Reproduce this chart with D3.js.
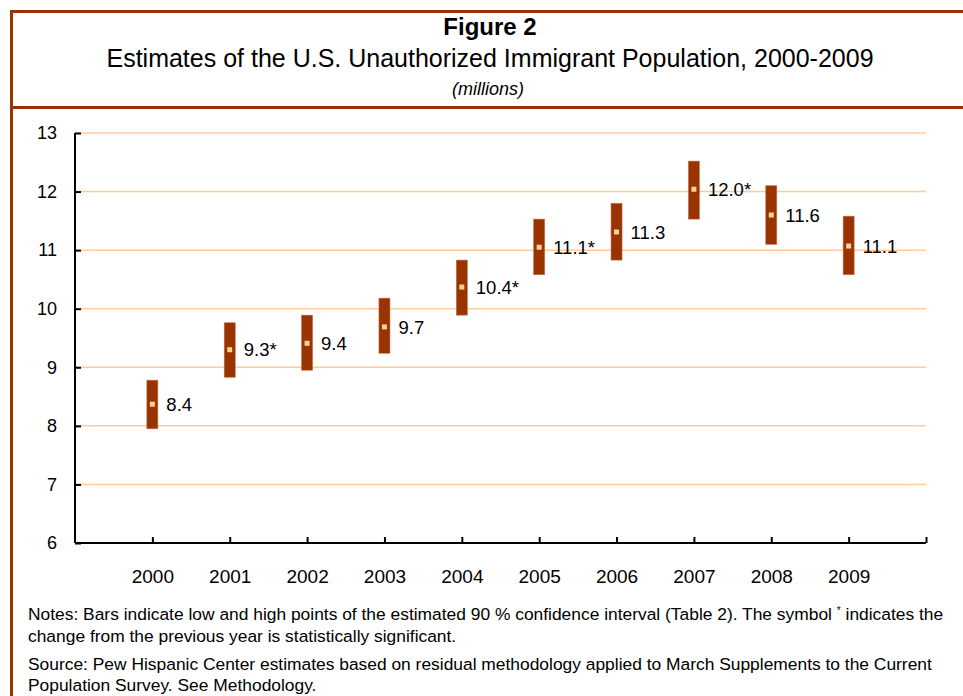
<!DOCTYPE html>
<html>
<head>
<meta charset="utf-8">
<script src="https://d3js.org/d3.v7.min.js"></script>
<style>
  body { margin: 0; background: #fff; }
  text { font-family: "Liberation Sans", Arial, sans-serif; }
</style>
</head>
<body>
<div id="chart"></div>
<script>
// years, estimates (millions) and 90% confidence interval ends
const years  = [2000, 2001, 2002, 2003, 2004, 2005, 2006, 2007, 2008, 2009];
const values = [8.37, 9.30, 9.41, 9.69, 10.37, 11.05, 11.31, 12.04, 11.60, 11.07];
const lows   = [7.95, 8.83, 8.95, 9.24, 9.89, 10.58, 10.83, 11.53, 11.10, 10.58];
const highs  = [8.78, 9.76, 9.89, 10.18, 10.83, 11.53, 11.80, 12.52, 12.10, 11.58];
const labels = ["8.4", "9.3*", "9.4", "9.7", "10.4*", "11.1*", "11.3", "12.0*", "11.6", "11.1"];
const yTicks = [6, 7, 8, 9, 10, 11, 12, 13];

const width = 963, height = 696;
const brown = "#993300", peach = "#FFCC99";

const svg = d3.select("#chart").append("svg")
    .attr("width", width)
    .attr("height", height);

// frame lines
svg.append("rect").attr("x", 10).attr("y", 10).attr("width", width).attr("height", 3).attr("fill", brown);
svg.append("rect").attr("x", 10).attr("y", 106).attr("width", width).attr("height", 3).attr("fill", brown);
svg.append("rect").attr("x", 10).attr("y", 10).attr("width", 3).attr("height", height).attr("fill", brown);

// titles
svg.append("text").attr("x", 490).attr("y", 35).attr("text-anchor", "middle")
    .style("font-size", "24px").style("font-weight", "bold").text("Figure 2");
svg.append("text").attr("x", 490).attr("y", 67).attr("text-anchor", "middle")
    .style("font-size", "25px")
    .text("Estimates of the U.S. Unauthorized Immigrant Population, 2000-2009");
svg.append("text").attr("x", 488).attr("y", 95).attr("text-anchor", "middle")
    .style("font-size", "18px").style("font-style", "italic").text("(millions)");

// scales
const x = d3.scaleLinear().domain([1999, 2010]).range([75, 926]);
const y = d3.scaleLinear().domain([6, 13]).range([543, 133]);

// gridlines
svg.append("g").selectAll("line")
    .data(yTicks.filter(d => d > 6))
    .join("line")
    .attr("x1", x(1999)).attr("x2", x(2010))
    .attr("y1", d => y(d)).attr("y2", d => y(d))
    .attr("stroke", peach).attr("stroke-width", 1.5);

// y axis
const yAxis = svg.append("g")
    .attr("transform", `translate(${x(1999)},0)`)
    .call(d3.axisLeft(y).tickValues(yTicks).tickSize(-6).tickPadding(18).tickFormat(d3.format("d")));
yAxis.select(".domain").attr("stroke", "#000").attr("stroke-width", 2)
    .attr("d", `M0,${y(13)}V${y(6)}`);
yAxis.selectAll(".tick line").attr("stroke", "#000").attr("stroke-width", 2);
yAxis.selectAll(".tick text").style("font-size", "18px").attr("fill", "#000")
    .attr("font-family", null);

// x axis
const xAxis = svg.append("g")
    .attr("transform", `translate(0,${y(6)})`)
    .call(d3.axisBottom(x).tickValues(years.concat([2010])).tickSize(-6).tickPadding(27)
        .tickFormat(d => d === 2010 ? "" : d));
xAxis.select(".domain").attr("stroke", "#000").attr("stroke-width", 2)
    .attr("d", `M${x(1999)},0H${x(2010)}`);
xAxis.selectAll(".tick line").attr("stroke", "#000").attr("stroke-width", 2);
xAxis.selectAll(".tick text").style("font-size", "19px").attr("fill", "#000")
    .attr("font-family", null);

// interval bars
const rows = years.map((yr, i) => ({ yr, v: values[i], lo: lows[i], hi: highs[i], lab: labels[i] }));

svg.append("g").selectAll("rect")
    .data(rows)
    .join("rect")
    .attr("x", d => x(d.yr) - 5.5)
    .attr("width", 11)
    .attr("y", d => y(d.hi))
    .attr("height", d => y(d.lo) - y(d.hi))
    .attr("fill", brown)
    .attr("stroke", "#C4704A").attr("stroke-width", 0.6);

// estimate markers
svg.append("g").selectAll("rect")
    .data(rows)
    .join("rect")
    .attr("x", d => x(d.yr) - 2.5)
    .attr("y", d => y(d.v) - 2.5)
    .attr("width", 5).attr("height", 5)
    .attr("fill", "#FFD0A0");

// value labels
svg.append("g").selectAll("text")
    .data(rows)
    .join("text")
    .attr("x", d => x(d.yr) + 14)
    .attr("y", d => y(d.v))
    .attr("dy", "0.36em")
    .style("font-size", "18.5px")
    .text(d => d.lab);

// notes
const notes = svg.append("g").style("font-size", "17.4px");
const n1 = notes.append("text").attr("x", 28).attr("y", 620);
n1.append("tspan").text("Notes: Bars indicate low and high points of the estimated 90 % confidence interval (Table 2). The symbol ");
n1.append("tspan").attr("dy", -6).style("font-size", "10px").text("*");
n1.append("tspan").attr("dy", 6).text(" indicates the");
notes.append("text").attr("x", 28).attr("y", 642)
    .text("change from the previous year is statistically significant.");
notes.append("text").attr("x", 28).attr("y", 670)
    .text("Source: Pew Hispanic Center estimates based on residual methodology applied to March Supplements to the Current");
notes.append("text").attr("x", 28).attr("y", 691)
    .text("Population Survey. See Methodology.");
</script>
</body>
</html>
